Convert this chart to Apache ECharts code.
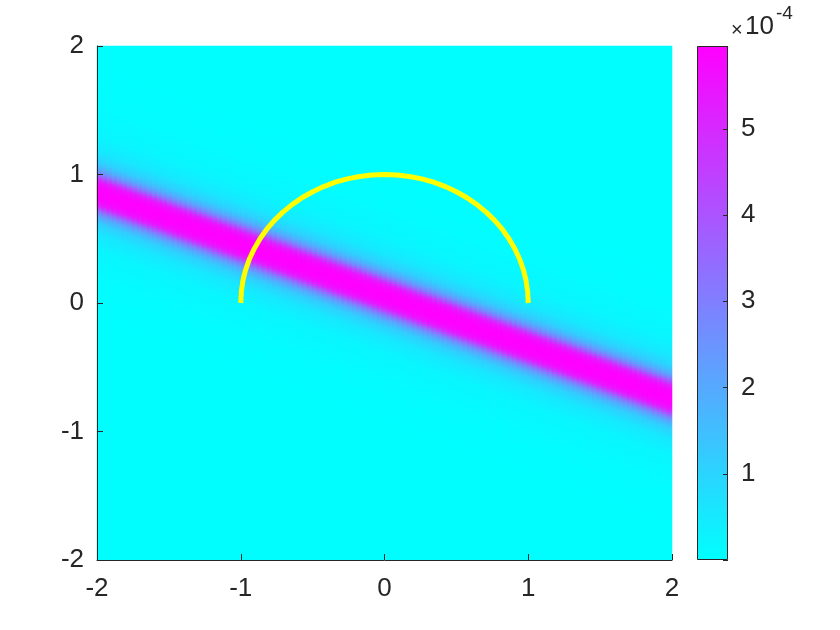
<!DOCTYPE html>
<html>
<head>
<meta charset="utf-8">
<script src="https://cdn.jsdelivr.net/npm/echarts@6/dist/echarts.min.js"></script>
<style>html,body{margin:0;background:#fff;}</style>
</head>
<body>
<div id="main" style="width:840px;height:630px;"></div>
<script>
// ridge of the field: centre y read at these x positions
const ridgeX = [-2, -1, 0, 1, 2];
const ridgeY = [0.86, 0.46, 0.06, -0.34, -0.74];
// field value (x1e-4) against vertical distance from the ridge
const profileD = [0, 0.05, 0.09, 0.12, 0.15, 0.19, 0.24, 0.32, 0.45, 0.7, 1.0, 4.0];
const profileV = [5.96, 5.85, 5.4, 4.3, 3.0, 1.9, 1.1, 0.55, 0.22, 0.07, 0.03, 0.005];
// yellow half circle
const arcX = [1, 0.996, 0.985, 0.966, 0.940, 0.906, 0.866, 0.819, 0.766, 0.707,
  0.643, 0.574, 0.5, 0.423, 0.342, 0.259, 0.174, 0.087, 0,
  -0.087, -0.174, -0.259, -0.342, -0.423, -0.5, -0.574, -0.643, -0.707,
  -0.766, -0.819, -0.866, -0.906, -0.940, -0.966, -0.985, -0.996, -1];
const arcY = [0, 0.087, 0.174, 0.259, 0.342, 0.423, 0.5, 0.574, 0.643, 0.707,
  0.766, 0.819, 0.866, 0.906, 0.940, 0.966, 0.985, 0.996, 1,
  0.996, 0.985, 0.966, 0.940, 0.906, 0.866, 0.819, 0.766, 0.707,
  0.643, 0.574, 0.5, 0.423, 0.342, 0.259, 0.174, 0.087, 0];
const axisTicks = [-2, -1, 0, 1, 2];
const cbTicks = [1, 2, 3, 4, 5];
const cbMax = 5.96;

const nx = 115, ny = 257;

function lookup(xs, ys, v) {
  if (v <= xs[0]) return ys[0];
  for (let k = 1; k < xs.length; k++) {
    if (v <= xs[k]) {
      let t = (v - xs[k - 1]) / (xs[k] - xs[k - 1]);
      return ys[k - 1] + t * (ys[k] - ys[k - 1]);
    }
  }
  return ys[ys.length - 1];
}

let xCats = [], yCats = [], cells = [];
for (let i = 0; i < nx; i++) xCats.push(i);
for (let j = 0; j < ny; j++) yCats.push(j);
for (let i = 0; i < nx; i++) {
  let x = -2 + (i + 0.5) * 4 / nx;
  let yc = lookup(ridgeX, ridgeY, x);
  for (let j = 0; j < ny; j++) {
    let y = -2 + (j + 0.5) * 4 / ny;
    cells.push([i, j, lookup(profileD, profileV, Math.abs(y - yc))]);
  }
}

let chart = echarts.init(document.getElementById('main'));
const txt = '#262626';
const font = 'Liberation Sans, Arial, sans-serif';

let option = {
  animation: false,
  textStyle: { fontFamily: font },
  grid: [
    { left: 97, top: 46, width: 575, height: 514 },
    { left: 697, top: 46, width: 31, height: 514 }
  ],
  visualMap: {
    show: false, seriesIndex: 0, dimension: 2,
    min: 0, max: cbMax,
    inRange: { color: ['#00ffff', '#ff00ff'] }
  },
  xAxis: [
    { type: 'category', gridIndex: 0, data: xCats, show: false },
    {
      type: 'value', gridIndex: 0, min: -2, max: 2, interval: 1, position: 'bottom', z: 5,
      axisLine: { show: true, onZero: false, lineStyle: { color: txt, width: 1 } },
      axisTick: { show: true, inside: true, length: 6, lineStyle: { color: txt } },
      axisLabel: { color: txt, fontSize: 26, margin: 16, fontFamily: font },
      splitLine: { show: false }
    },
    { type: 'category', gridIndex: 1, data: [''], show: false }
  ],
  yAxis: [
    { type: 'category', gridIndex: 0, data: yCats, show: false },
    {
      type: 'value', gridIndex: 0, min: -2, max: 2, interval: 1, position: 'left', z: 5,
      axisLine: { show: true, onZero: false, lineStyle: { color: txt, width: 1 } },
      axisTick: { show: true, inside: true, length: 6, lineStyle: { color: txt } },
      axisLabel: { color: txt, fontSize: 26, margin: 13, fontFamily: font },
      splitLine: { show: false }
    },
    {
      type: 'value', gridIndex: 1, min: 0, max: cbMax, interval: 1, position: 'right', z: 5,
      axisLine: { show: false },
      axisTick: { show: true, inside: true, length: 5, lineStyle: { color: txt } },
      axisLabel: {
        color: txt, fontSize: 26, margin: 13, fontFamily: font,
        formatter: v => (cbTicks.indexOf(v) >= 0 ? String(v) : '')
      },
      splitLine: { show: false }
    }
  ],
  graphic: [
    { type: 'text', left: 731, top: 20, style: { text: '\u00d7', fontSize: 20, fill: txt, fontFamily: font } },
    { type: 'text', left: 745, top: 14, style: { text: '10', fontSize: 26, fill: txt, fontFamily: font } },
    { type: 'text', left: 776, top: 4, style: { text: '-4', fontSize: 19, fill: txt, fontFamily: font } }
  ],
  series: [
    {
      type: 'heatmap', xAxisIndex: 0, yAxisIndex: 0, data: cells,
      progressive: 0, emphasis: { disabled: true }, silent: true
    },
    {
      type: 'line', xAxisIndex: 1, yAxisIndex: 1, z: 10,
      data: arcX.map((v, k) => [v, arcY[k]]),
      symbol: 'none', silent: true,
      lineStyle: { color: '#ffff00', width: 5, cap: 'butt' }
    },
    {
      type: 'bar', xAxisIndex: 2, yAxisIndex: 2, data: [cbMax], barWidth: '100%', silent: true,
      itemStyle: {
        borderColor: txt, borderWidth: 1,
        color: new echarts.graphic.LinearGradient(0, 0, 0, 1, [
          { offset: 0, color: '#ff00ff' },
          { offset: 1, color: '#00ffff' }
        ])
      }
    }
  ]
};

chart.setOption(option);
</script>
</body>
</html>
